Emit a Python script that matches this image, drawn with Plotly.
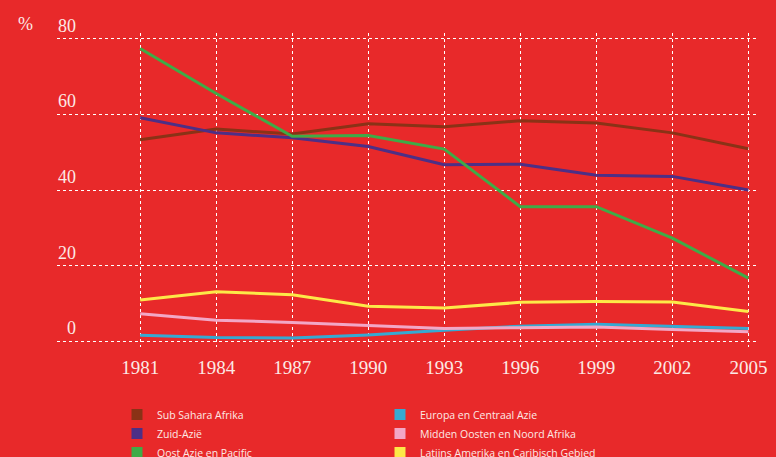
import plotly.graph_objects as go

years = [1981, 1984, 1987, 1990, 1993, 1996, 1999, 2002, 2005]
year_labels = [str(y) for y in years]

sub_sahara = [53.3, 56.1, 54.8, 57.5, 56.7, 58.3, 57.7, 55.1, 50.9]
zuid_azie = [59.1, 55.1, 53.8, 51.5, 46.7, 46.8, 43.9, 43.6, 40.0]
oost_azie = [77.4, 65.5, 54.2, 54.4, 50.8, 35.6, 35.6, 27.3, 16.7]
europa = [1.6, 1.0, 0.9, 1.7, 2.9, 4.0, 4.5, 4.0, 3.4]
midden_oosten = [7.3, 5.6, 5.0, 4.2, 3.4, 3.6, 3.8, 3.1, 2.5]
latijns = [10.9, 13.1, 12.3, 9.3, 8.8, 10.3, 10.5, 10.4, 7.9]

y_ticks = [0, 20, 40, 60, 80]
y_tick_labels = ["0", "20", "40", "60", "80"]

names = ["Sub Sahara Afrika", "Zuid-Azië", "Oost Azie en Pacific",
         "Europa en Centraal Azie", "Midden Oosten en Noord Afrika",
         "Latijns Amerika en Caribisch Gebied"]
series = [sub_sahara, zuid_azie, oost_azie, europa, midden_oosten, latijns]
colors = ["#8A3216", "#4D2F86", "#3FAB47", "#36A9D2", "#F2A7C6", "#FDE948"]

BG = "#E8292A"
TXT = "#FCE9E6"

W, H = 776, 457
ML, MR, MT, MB = 57, 20, 33, 110
PW, PH = W - ML - MR, H - MT - MB

fig = go.Figure()
draw_order = [3, 4, 5, 0, 1, 2]
for i in draw_order:
    fig.add_trace(go.Scatter(x=years, y=series[i], mode="lines", name=names[i],
                             line=dict(color=colors[i], width=3), showlegend=False))

legend_order = [0, 3, 1, 4, 2, 5]
for i in legend_order:
    fig.add_trace(go.Scatter(x=[None], y=[None], mode="markers", name=names[i],
                             marker=dict(symbol="square", size=11, color=colors[i]),
                             showlegend=True))

annotations = [dict(xref="paper", yref="y", x=(78 - ML) / PW, y=v, text=t, showarrow=False,
                    xanchor="right", yanchor="bottom", yshift=1,
                    font=dict(family="Liberation Serif", size=18, color=TXT))
               for v, t in zip(y_ticks, y_tick_labels)]
annotations.append(dict(xref="paper", yref="paper", x=(25 - ML) / PW, y=(H - MB - 24) / PH,
                        text="%", showarrow=False, xanchor="center", yanchor="middle",
                        font=dict(family="Liberation Serif", size=18, color=TXT)))

fig.update_layout(
    width=W, height=H,
    paper_bgcolor=BG, plot_bgcolor=BG,
    margin=dict(l=ML, r=MR, t=MT, b=MB, autoexpand=False),
    xaxis=dict(range=[1977.72, 2005.3], tickvals=years, ticktext=year_labels,
               showgrid=True, gridcolor="white", griddash="dot", gridwidth=1,
               zeroline=False, showline=False, ticks="",
               tickfont=dict(family="Liberation Serif", size=19, color=TXT),
               ticklabelstandoff=7),
    yaxis=dict(range=[-1.5, 81.5], tickvals=y_ticks, showticklabels=False,
               showgrid=True, gridcolor="white", griddash="dot", gridwidth=1,
               zeroline=False, showline=False, ticks=""),
    legend=dict(orientation="h", xref="container", yref="container",
                x=117 / W, xanchor="left", y=1 - 400 / H, yanchor="top",
                entrywidth=218, entrywidthmode="pixels", itemwidth=30,
                font=dict(family="Open Sans", size=10.5, color=TXT),
                bgcolor="rgba(0,0,0,0)", tracegroupgap=0),
    annotations=annotations,
    showlegend=True,
)

fig.write_html("out.html", config={"displayModeBar": False},
               post_script="document.body.style.margin='0';document.body.style.padding='0';"
                           "document.body.style.overflow='hidden';")
